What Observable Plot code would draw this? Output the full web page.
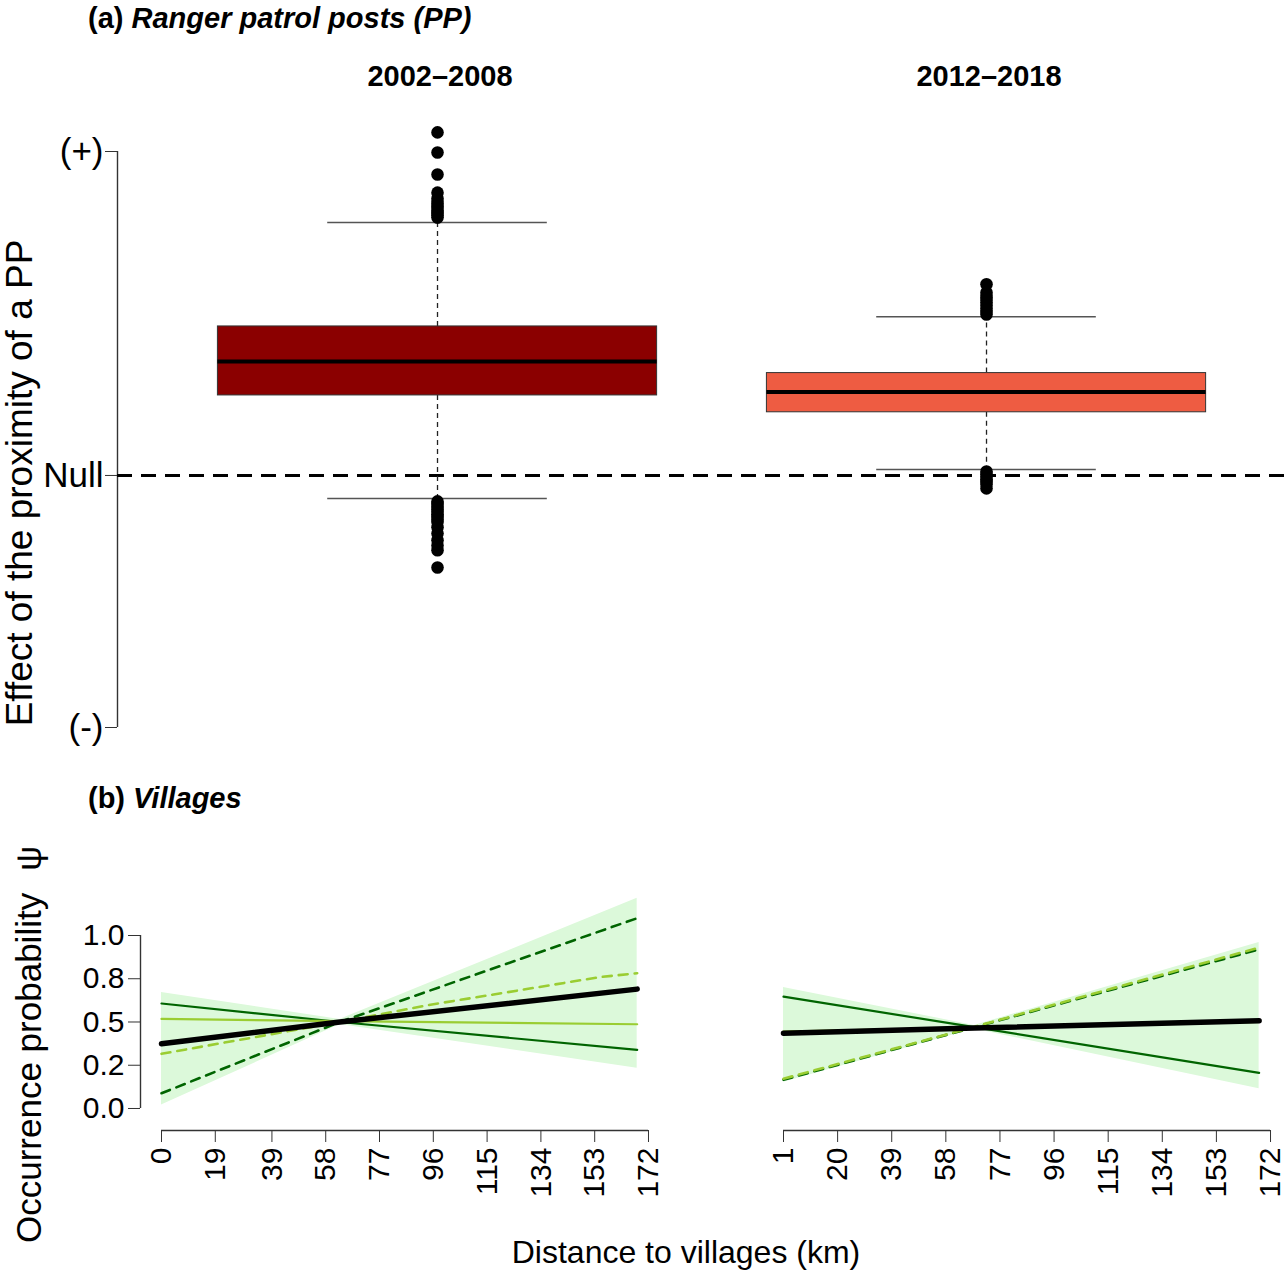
<!DOCTYPE html>
<html><head><meta charset="utf-8">
<script src="https://cdn.jsdelivr.net/npm/d3@7"></script>
<script src="https://cdn.jsdelivr.net/npm/@observablehq/plot@0.6"></script>
<style>
body{margin:0;background:#fff;}
#wrap{position:relative;width:1285px;height:1280px;font-family:"Liberation Sans",Arial,sans-serif;background:#fff;}
#wrap > svg{position:absolute;}
</style></head><body><div id="wrap"></div>
<script>
// ---------- Panel (a): boxplot summaries ----------
const groups = ["2002–2008", "2012–2018"];
const groupPos = [1, 2];
const boxFill = ["#8B0000", "#EE5C42"];
const q1 = [0.247, 0.195];
const med = [0.352, 0.258];
const q3 = [0.46, 0.316];
const whiskLo = [-0.071, 0.0185];
const whiskHi = [0.781, 0.49];
const outliers1 = [1.059, 0.997, 0.929, 0.873, 0.855, 0.845, 0.835, 0.826, 0.818, 0.81, 0.803, 0.796,
  -0.08, -0.088, -0.096, -0.104, -0.112, -0.12, -0.128, -0.136, -0.144, -0.16, -0.179, -0.2, -0.216, -0.231, -0.284];
const outliers2 = [0.59, 0.565, 0.555, 0.545, 0.535, 0.525, 0.515, 0.505, 0.497,
  0.012, 0.004, -0.004, -0.012, -0.02, -0.028, -0.04];
const effectTicks = [1, 0, -0.778];
const effectLabels = ["(+)", "Null", "(-)"];

// ---------- Panel (b): occurrence probability vs distance ----------
const probTicks = [0, 0.25, 0.5, 0.75, 1];
const probLabels = ["0.0", "0.2", "0.5", "0.8", "1.0"];
const distTicksL = [0, 19, 39, 58, 77, 96, 115, 134, 153, 172];
const distTicksR = [1, 20, 39, 58, 77, 96, 115, 134, 153, 172];

const distL = [0, 63, 168];
const bandHiL = [0.67, 0.515, 1.215];
const bandLoL = [0.02, 0.485, 0.233];
const meanL = [0.374, 0.5, 0.69];
const darkSolidL = [0.607, 0.5, 0.339];
const lightSolidL = [0.518, 0.505, 0.487];
const darkDashL = [0.088, 0.5, 1.10];
const lightDashDistL = [0, 63, 95, 127, 155, 168];
const lightDashL = [0.316, 0.5, 0.6, 0.685, 0.76, 0.782];

const distR = [1, 68, 168];
const bandHiR = [0.70, 0.48, 0.96];
const bandLoR = [0.152, 0.46, 0.114];
const meanR = [0.435, 0.465, 0.507];
const darkSolidR = [0.647, 0.47, 0.206];
const lightSolidR = [0.445, 0.468, 0.50];
const darkDashR = [0.166, 0.47, 0.92];
const lightDashR = [0.172, 0.472, 0.93];

const DARK = "#006400", LIGHT = "#9ACD32", BAND = "#dcf9da";
const FONT = "'Liberation Sans', Arial, sans-serif";
const wrap = document.getElementById("wrap");

// ---------- build panel (a) ----------
const boxes = groups.map((g, i) => ({g, pos: groupPos[i], q1: q1[i], med: med[i], q3: q3[i], lo: whiskLo[i], hi: whiskHi[i], fill: boxFill[i]}));
const outl = [...outliers1.map(v => ({pos: groupPos[0], v})), ...outliers2.map(v => ({pos: groupPos[1], v}))];
const half = 0.4, capHalf = 0.2;
const xDomA = [0.4171, 2.5446];
const yDomA = [effectTicks[2], effectTicks[0]];

const chartA = Plot.plot({
  width: 1285, height: 780,
  marginLeft: 117, marginRight: 0, marginTop: 151, marginBottom: 53,
  style: {background: "none", overflow: "visible", fontFamily: FONT, fontSize: "35px", color: "black"},
  x: {domain: xDomA, axis: null},
  y: {domain: yDomA},
  color: {type: "identity"},
  marks: [
    Plot.ruleX([xDomA[0]], {y1: yDomA[0], y2: yDomA[1], stroke: "#333", strokeWidth: 1.4}),
    Plot.axisY({ticks: effectTicks, tickFormat: d => effectLabels[effectTicks.indexOf(d)], tickSize: 12, tickPadding: 2, stroke: "#333", label: null, fontSize: 35}),
    Plot.ruleY([0], {stroke: "black", strokeWidth: 3, strokeDasharray: "15,9"}),
    Plot.ruleX(boxes, {x: "pos", y1: "q3", y2: "hi", stroke: "#222", strokeWidth: 1.3, strokeDasharray: "5,4"}),
    Plot.ruleX(boxes, {x: "pos", y1: "q1", y2: "lo", stroke: "#222", strokeWidth: 1.3, strokeDasharray: "5,4"}),
    Plot.ruleY(boxes, {y: "hi", x1: d => d.pos - capHalf, x2: d => d.pos + capHalf, stroke: "#555", strokeWidth: 1.5}),
    Plot.ruleY(boxes, {y: "lo", x1: d => d.pos - capHalf, x2: d => d.pos + capHalf, stroke: "#555", strokeWidth: 1.5}),
    Plot.rect(boxes, {x1: d => d.pos - half, x2: d => d.pos + half, y1: "q1", y2: "q3", fill: "fill", stroke: "#333", strokeWidth: 1}),
    Plot.ruleY(boxes, {y: "med", x1: d => d.pos - half, x2: d => d.pos + half, stroke: "black", strokeWidth: 4}),
    Plot.dot(outl, {x: "pos", y: "v", r: 6.3, fill: "black", stroke: "none"})
  ]
});
chartA.style.left = "0px"; chartA.style.top = "0px";
wrap.appendChild(chartA);

// ---------- build panel (b) ----------
function rows(xs, ys) { return xs.map((x, i) => ({d: x, v: ys[i]})); }
function bandRows(xs, lo, hi) { return xs.map((x, i) => ({d: x, lo: lo[i], hi: hi[i]})); }
const yDomB = [-0.1272, 1];

function lineMarks(set) {
  return [
    Plot.areaY(set.band, {x: "d", y1: "lo", y2: "hi", fill: BAND}),
    Plot.line(set.darkDash, {x: "d", y: "v", stroke: DARK, strokeWidth: 2.6, strokeDasharray: "9,7"}),
    Plot.line(set.lightDash, {x: "d", y: "v", stroke: LIGHT, strokeWidth: 2.6, strokeDasharray: "9,7"}),
    Plot.line(set.darkSolid, {x: "d", y: "v", stroke: DARK, strokeWidth: 2.2}),
    Plot.line(set.lightSolid, {x: "d", y: "v", stroke: LIGHT, strokeWidth: 2.2}),
    Plot.line(set.mean, {x: "d", y: "v", stroke: "black", strokeWidth: 5.5, strokeLinecap: "round"})
  ];
}

const xDomL = [-7.417, 176.24];
const setL = {
  band: bandRows(distL, bandLoL, bandHiL),
  darkDash: rows(distL, darkDashL), lightDash: rows(lightDashDistL, lightDashL),
  darkSolid: rows(distL, darkSolidL), lightSolid: rows(distL, lightSolidL), mean: rows(distL, meanL)
};
const chartL = Plot.plot({
  width: 660, height: 340,
  marginLeft: 140, marginRight: 0, marginTop: 55, marginBottom: 90,
  style: {background: "none", overflow: "visible", fontFamily: FONT, fontSize: "30px", color: "black"},
  x: {domain: xDomL},
  y: {domain: yDomB},
  marks: [
    ...lineMarks(setL),
    Plot.ruleX([xDomL[0]], {y1: probTicks[0], y2: probTicks[probTicks.length - 1], stroke: "#333", strokeWidth: 1.4}),
    Plot.axisY({ticks: probTicks, tickFormat: d => probLabels[probTicks.indexOf(d)], tickSize: 12, tickPadding: 4, stroke: "#333", label: null, fontSize: 30}),
    Plot.ruleY([yDomB[0]], {x1: distTicksL[0], x2: distTicksL[distTicksL.length - 1], stroke: "#333", strokeWidth: 1.4}),
    Plot.axisX({ticks: distTicksL, tickFormat: d => String(d), tickRotate: -90, tickSize: 12, tickPadding: 5, stroke: "#333", label: null, fontSize: 30})
  ]
});
chartL.style.left = "0px"; chartL.style.top = "880px";
wrap.appendChild(chartL);

const xDomR = [-7.076, 177.26];
const setR = {
  band: bandRows(distR, bandLoR, bandHiR),
  darkDash: rows(distR, darkDashR), lightDash: rows(distR, lightDashR),
  darkSolid: rows(distR, darkSolidR), lightSolid: rows(distR, lightSolidR), mean: rows(distR, meanR)
};
const chartR = Plot.plot({
  width: 585, height: 340,
  marginLeft: 60, marginRight: 0, marginTop: 55, marginBottom: 90,
  style: {background: "none", overflow: "visible", fontFamily: FONT, fontSize: "30px", color: "black"},
  x: {domain: xDomR},
  y: {domain: yDomB, axis: null},
  marks: [
    ...lineMarks(setR),
    Plot.ruleY([yDomB[0]], {x1: distTicksR[0], x2: distTicksR[distTicksR.length - 1], stroke: "#333", strokeWidth: 1.4}),
    Plot.axisX({ticks: distTicksR, tickFormat: d => String(d), tickRotate: -90, tickSize: 12, tickPadding: 5, stroke: "#333", label: null, fontSize: 30})
  ]
});
chartR.style.left = "700px"; chartR.style.top = "880px";
wrap.appendChild(chartR);

// ---------- text overlay ----------
const ov = d3.select(wrap).append("svg")
  .attr("width", 1285).attr("height", 1280)
  .style("left", "0px").style("top", "0px").style("pointer-events", "none")
  .style("font-family", FONT);

const tA = ov.append("text").attr("x", 88).attr("y", 28).attr("font-size", 29).attr("font-weight", "bold");
tA.append("tspan").text("(a) ");
tA.append("tspan").attr("font-style", "italic").text("Ranger patrol posts (PP)");

const sxA = chartA.scale("x");
groups.forEach((g, i) => {
  ov.append("text").attr("x", sxA.apply(groupPos[i]) + 3).attr("y", 86)
    .attr("text-anchor", "middle").attr("font-size", 29).attr("font-weight", "bold").text(g);
});

ov.append("text").attr("transform", "translate(32,483) rotate(-90)")
  .attr("text-anchor", "middle").attr("font-size", 37).text("Effect of the proximity of a PP");

const tB = ov.append("text").attr("x", 88).attr("y", 808).attr("font-size", 29).attr("font-weight", "bold");
tB.append("tspan").text("(b) ");
tB.append("tspan").attr("font-style", "italic").text("Villages");

const yl = ov.append("text").attr("transform", "translate(41,1243) rotate(-90)")
  .attr("text-anchor", "start").attr("font-size", 35);
yl.append("tspan").text("Occurrence probability");
yl.append("tspan").attr("dx", 22).text("ψ");

ov.append("text").attr("x", 686).attr("y", 1263).attr("text-anchor", "middle")
  .attr("font-size", 32).text("Distance to villages (km)");
</script></body></html>
